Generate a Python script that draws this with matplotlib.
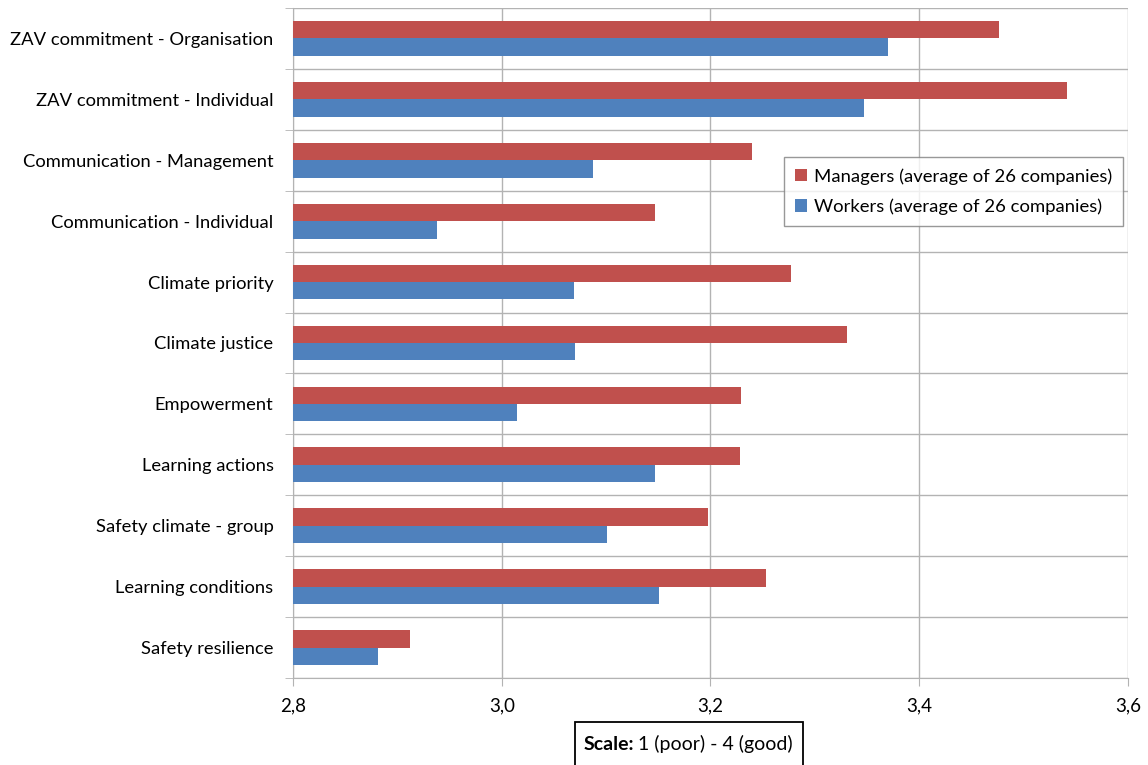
import matplotlib
matplotlib.use("Agg")
import matplotlib.pyplot as plt
from matplotlib.patches import Rectangle
import numpy as np

plt.rcParams['font.family'] = ['Lato', 'DejaVu Sans']

categories = [
    "ZAV commitment - Organisation",
    "ZAV commitment - Individual",
    "Communication - Management",
    "Communication - Individual",
    "Climate priority",
    "Climate justice",
    "Empowerment",
    "Learning actions",
    "Safety climate - group",
    "Learning conditions",
    "Safety resilience",
]
managers = [3.476, 3.542, 3.240, 3.147, 3.277, 3.331, 3.229, 3.228, 3.198, 3.253, 2.912]
workers = [3.370, 3.347, 3.087, 2.938, 3.069, 3.070, 3.015, 3.147, 3.101, 3.151, 2.881]
xticks = [2.8, 3.0, 3.2, 3.4, 3.6]
xtick_labels = ["2,8", "3,0", "3,2", "3,4", "3,6"]
series_names = ["Managers (average of 26 companies)", "Workers (average of 26 companies)"]

red = "#C0504D"
blue = "#4F81BD"
grid = "#B3B3B3"

W, H = 1148, 765
fig = plt.figure(figsize=(W / 100, H / 100), dpi=100)
ax = fig.add_axes([293 / W, 1 - 678 / H, (1128 - 293) / W, (678 - 8) / H])

n = len(categories)
y = np.arange(n)[::-1].astype(float)
h = 0.285
base = 2.8
ax.barh(y + h / 2, np.array(managers) - base, left=base, height=h, color=red, label=series_names[0], zorder=3)
ax.barh(y - h / 2, np.array(workers) - base, left=base, height=h, color=blue, label=series_names[1], zorder=3)

ax.set_xlim(2.8, 3.6)
ax.set_ylim(-0.5, n - 0.5)
ax.set_xticks(xticks)
ax.set_xticklabels(xtick_labels, fontsize=13.5)
ax.set_yticks(y)
ax.set_yticklabels(categories, fontsize=13.2)
ax.tick_params(axis='y', length=0, pad=14)
ax.set_yticks(np.arange(n + 1) - 0.5, minor=True)
ax.tick_params(axis='y', which='minor', length=6, color=grid, direction='out')
ax.tick_params(axis='x', length=6, color=grid, direction='out', pad=8)

ax.grid(axis='x', color=grid, linewidth=1, zorder=0)
ax.grid(axis='y', which='minor', color=grid, linewidth=1, zorder=0)
for s in ['top', 'right']:
    ax.spines[s].set_visible(False)
for s in ['left', 'bottom']:
    ax.spines[s].set_color(grid)

leg = ax.legend(loc='upper left', bbox_to_anchor=((784 - 293) / 835, 1 - (157 - 8) / 670), fontsize=13.3,
                frameon=True, fancybox=False, edgecolor='#7F7F7F',
                handlelength=0.65, handleheight=0.65, handletextpad=0.35,
                borderpad=0.6, labelspacing=0.75, borderaxespad=0)
leg.get_frame().set_linewidth(1)

fig.patches.append(Rectangle((575 / W, -0.02), (803 - 575) / W, 0.02 + (765 - 722) / H,
                             transform=fig.transFigure, facecolor='white', edgecolor='black',
                             linewidth=1.3, zorder=5))
fig.text(634 / W, 1 - 744 / H, "Scale:", fontsize=14, fontweight='bold', ha='right', va='center', zorder=6)
fig.text(638 / W, 1 - 744 / H, "1 (poor) - 4 (good)", fontsize=14, ha='left', va='center', zorder=6)

fig.savefig("out.png", dpi=100)
